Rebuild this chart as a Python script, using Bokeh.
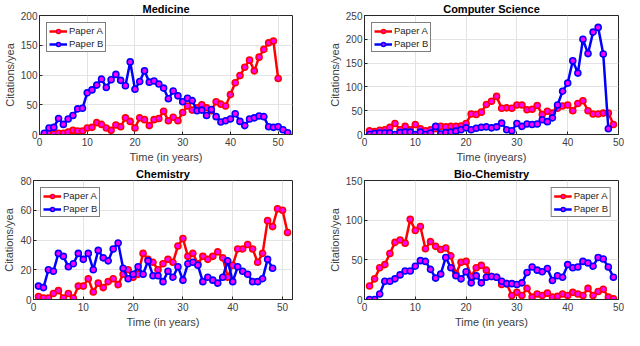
from bokeh.plotting import figure
from bokeh.layouts import column, row
from bokeh.models import Range1d, FixedTicker
from bokeh.embed import file_html
from bokeh.resources import INLINE

# ---------------- data ----------------
med_a_x = list(range(2, 51))
med_a = [2, 1, 2, 2, 4, 7, 6, 6, 11, 12, 20, 17, 11, 7, 16, 13, 28, 22, 11, 28,
         25, 15, 25, 27, 39, 23, 29, 23, 37, 48, 41, 45, 50, 45, 40, 55, 51, 48,
         67, 87, 99, 113, 125, 107, 130, 143, 154, 157, 94]
med_b_x = list(range(1, 53))
med_b = [2, 11, 12, 27, 17, 26, 32, 43, 44, 70, 75, 83, 93, 79, 92, 101, 91, 82,
         122, 76, 89, 107, 88, 90, 85, 78, 60, 73, 65, 55, 61, 57, 40, 41, 32, 42,
         30, 21, 23, 26, 35, 22, 15, 26, 28, 31, 30, 13, 12, 13, 8, 3]

cs_a_x = list(range(1, 50))
cs_a = [8, 6, 9, 10, 15, 23, 10, 17, 10, 21, 12, 8, 10, 12, 17, 16, 17, 17, 18,
        23, 43, 42, 47, 63, 70, 80, 55, 56, 55, 62, 62, 52, 53, 61, 42, 49, 45,
        55, 60, 62, 50, 65, 71, 50, 43, 43, 45, 45, 21]
cs_b_x = list(range(1, 49))
cs_b = [0, 2, 3, 3, 3, 0, 4, 5, 5, 0, 5, 0, 3, 17, 1, 4, 5, 7, 10, 14, 10, 13,
        15, 16, 14, 16, 24, 10, 8, 23, 17, 22, 21, 22, 31, 27, 35, 62, 91, 108,
        155, 129, 200, 170, 215, 225, 169, 12]

ch_a_x = list(range(1, 52))
ch_a = [2, 1, 1, 4, 6, 1, 4, 1, 9, 9, 14, 5, 11, 8, 12, 14, 10, 17, 20, 15, 17,
        31, 27, 25, 20, 24, 27, 25, 36, 41, 29, 31, 24, 29, 27, 29, 32, 28, 15,
        23, 34, 34, 37, 34, 25, 31, 53, 49, 61, 60, 45]
ch_b_x = list(range(1, 49))
ch_b = [9, 8, 20, 19, 31, 29, 22, 24, 31, 27, 31, 20, 33, 28, 26, 34, 38, 21, 14,
        17, 22, 17, 26, 16, 16, 12, 19, 15, 22, 13, 24, 25, 23, 12, 15, 13, 11,
        15, 26, 12, 22, 19, 17, 12, 12, 14, 27, 21]

bc_a_x = list(range(1, 50))
bc_a = [17, 26, 40, 44, 58, 72, 75, 71, 101, 87, 92, 64, 73, 67, 63, 65, 55, 32,
        47, 48, 29, 40, 43, 37, 29, 28, 19, 20, 5, 9, 5, 14, 3, 7, 5, 8, 3, 4, 7,
        5, 9, 7, 5, 14, 5, 10, 13, 3, 1]
bc_b_x = list(range(1, 50))
bc_b = [0, 0, 7, 23, 23, 26, 31, 36, 36, 42, 49, 48, 38, 27, 32, 53, 40, 30, 26,
        35, 21, 30, 21, 28, 29, 28, 23, 20, 20, 19, 21, 34, 41, 37, 35, 39, 24, 30,
        28, 44, 40, 41, 48, 46, 42, 53, 51, 41, 28]

titles = ["Medicine", "Computer Science", "Chemistry", "Bio-Chemistry"]
series_labels = ["Paper A", "Paper B"]
x_ticks = [0, 10, 20, 30, 40, 50]
med_yticks = [0, 50, 100, 150, 200]
cs_yticks = [0, 50, 100, 150, 200, 250]
ch_yticks = [0, 20, 40, 60, 80]
bc_yticks = [0, 50, 100, 150]

FONT = "Liberation Sans"
RED = "#ff0000"
BLUE = "#0000ff"
FACE = "#ff00ff"


def make(title, xlabel, ax, ay, bx, by, xmax, yticks, loc, w, h, bl, br, bt, bb):
    p = figure(width=w, height=h, output_backend="svg", toolbar_location=None,
               x_range=Range1d(0, xmax), y_range=Range1d(0, yticks[-1]),
               min_border_left=bl, min_border_right=br,
               min_border_top=bt, min_border_bottom=bb)
    p.title.text = title
    p.title.align = "center"
    p.title.text_font = FONT
    p.title.text_font_size = "11px"
    p.title.text_font_style = "bold"
    p.title.text_color = "#000000"
    p.title.standoff = 1
    p.title.offset = 0

    p.xaxis.ticker = FixedTicker(ticks=x_ticks)
    p.yaxis.ticker = FixedTicker(ticks=yticks)
    for a in (p.xaxis[0], p.yaxis[0]):
        a.major_tick_in = 3
        a.major_tick_out = 0
        a.minor_tick_line_color = None
        a.axis_line_color = "#262626"
        a.major_tick_line_color = "#262626"
        a.major_label_text_font = FONT
        a.major_label_text_font_size = "10px"
        a.major_label_text_color = "#404040"
        a.axis_label_text_font = FONT
        a.axis_label_text_font_size = "11px"
        a.axis_label_text_font_style = "normal"
        a.axis_label_text_color = "#404040"
        a.major_label_standoff = 2
        a.axis_label_standoff = 2
    p.xaxis.major_label_standoff = 3
    p.xaxis.axis_label = xlabel
    p.yaxis.axis_label = "Citations/yea"
    p.outline_line_color = "#262626"
    p.outline_line_width = 1
    p.grid.grid_line_color = "#e3e3e3"
    p.grid.grid_line_width = 1
    p.background_fill_color = "white"

    p.line(ax, ay, color=RED, line_width=2.5, legend_label=series_labels[0])
    p.scatter(ax, ay, size=6, line_color=RED, line_width=1.6, fill_color=FACE,
              legend_label=series_labels[0])
    p.line(bx, by, color=BLUE, line_width=2.5, legend_label=series_labels[1])
    p.scatter(bx, by, size=6, line_color=BLUE, line_width=1.6, fill_color=FACE,
              legend_label=series_labels[1])

    lg = p.legend[0]
    lg.location = loc
    lg.border_line_color = "#000000"
    lg.border_line_width = 1
    lg.background_fill_alpha = 1
    lg.label_text_font = FONT
    lg.label_text_font_size = "9.5px"
    lg.label_text_color = "#262626"
    lg.label_height = 10
    lg.glyph_height = 10
    lg.glyph_width = 18
    lg.label_standoff = 2
    lg.spacing = 2
    lg.padding = 2
    lg.margin = 7
    return p


XL = "Time (in years)"
p1 = make(titles[0], XL, med_a_x, med_a, med_b_x, med_b, 53, med_yticks,
          "top_left", 314, 165, 32, 22, 10, 24)
p2 = make(titles[1], "Time (inyears)", cs_a_x, cs_a, cs_b_x, cs_b, 50, cs_yticks,
          "top_left", 310, 165, 50, 6, 10, 24)
p3 = make(titles[2], XL, ch_a_x, ch_a, ch_b_x, ch_b, 52, ch_yticks,
          "top_left", 314, 165, 32, 22, 10, 24)
p4 = make(titles[3], XL, bc_a_x, bc_a, bc_b_x, bc_b, 50, bc_yticks,
          "top_right", 310, 165, 50, 6, 10, 24)

layout = column(row(p1, p2, spacing=0), row(p3, p4, spacing=0), spacing=0)
open("out.html", "w").write(file_html(layout, INLINE))
